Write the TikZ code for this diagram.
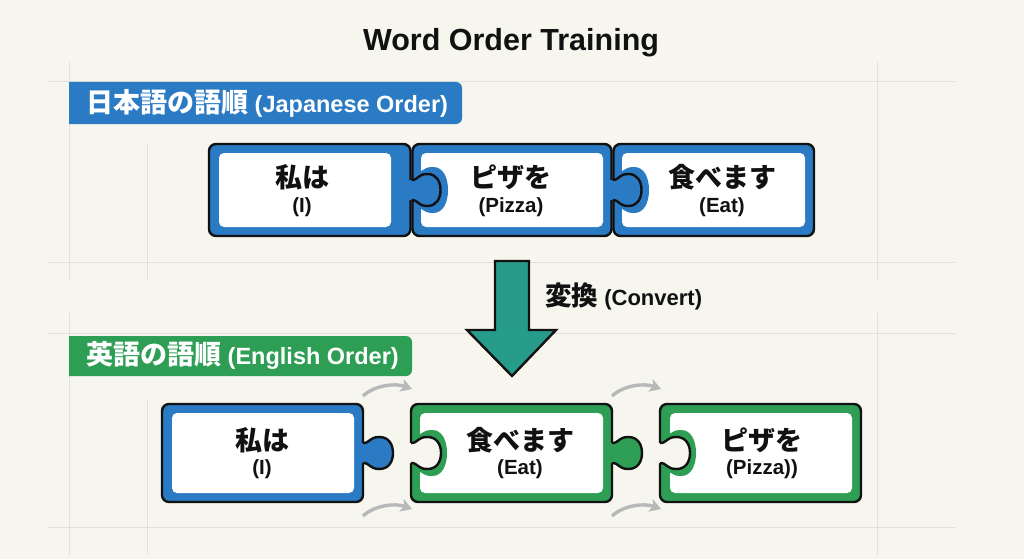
\documentclass[tikz,border=0pt]{standalone}
\usepackage{fontspec}
\setmainfont{Liberation Sans}
\newfontfamily\jp{Noto Sans CJK JP}
\usetikzlibrary{arrows.meta}
\definecolor{bg}{RGB}{246,245,238}
\definecolor{gridc}{RGB}{226,224,216}
\definecolor{pblue}{RGB}{43,122,196}
\definecolor{pgreen}{RGB}{46,158,85}
\definecolor{teal}{RGB}{40,156,138}
\definecolor{garr}{RGB}{184,184,184}
\definecolor{ink}{RGB}{17,17,17}
\newcommand\jpbig{\jp\bfseries\fontsize{27}{27}\selectfont}
\tikzset{
  tabcurve/.style n args={5}{insert path={
    -- ({#1},{#2-#3})
    .. controls ({#1+0.25*#5},{#2-#3}) and ({#1+0.2*#5},{#2-#4}) .. ({#1+0.55*#5},{#2-#4})
    .. controls ({#1+0.85*#5},{#2-#4}) and ({#1+#5},{#2-0.55*#4}) .. ({#1+#5},{#2})
    .. controls ({#1+#5},{#2+0.55*#4}) and ({#1+0.85*#5},{#2+#4}) .. ({#1+0.55*#5},{#2+#4})
    .. controls ({#1+0.2*#5},{#2+#4}) and ({#1+0.25*#5},{#2+#3}) .. ({#1},{#2+#3})
  }},
  outline/.style={draw=ink, line width=2.4pt, line join=round},
  piecebox/.style={outline, rounded corners=7pt},
  innerbox/.style={fill=white, rounded corners=5pt},
  gridline/.style={draw=gridc, line width=0.9pt},
  jword/.style={font=\jp\bfseries\fontsize{27}{27}\selectfont, text=ink, inner sep=0pt},
  eword/.style={font=\bfseries\fontsize{20.5}{20.5}\selectfont, text=ink, inner sep=0pt},
  bannertext/.style={font=\bfseries\fontsize{23.5}{23.5}\selectfont, text=white, inner sep=0pt, anchor=west},
  garrow/.style={draw=garr, line width=3.4pt, -{Stealth[length=11pt,width=13pt,inset=2.5pt]}},
}
\begin{document}
\begin{tikzpicture}[x=1pt,y=-1pt]
\useasboundingbox (0,0) rectangle (1024,559);
\fill[bg] (0,0) rectangle (1024,559);
% faint grid
\foreach \yy in {81,262,333,527} \draw[gridline] (48,\yy) -- (956,\yy);
\draw[gridline] (69,62) -- (69,280);
\draw[gridline] (69,313) -- (69,555);
\draw[gridline] (147,143) -- (147,280);
\draw[gridline] (147,400) -- (147,555);
\draw[gridline] (877,62) -- (877,280);
\draw[gridline] (877,313) -- (877,555);

% title
\node[font=\bfseries\fontsize{30.5}{30.5}\selectfont, text=ink, inner sep=0pt] (title) at (511,43) {Word Order Training};

% banners
\fill[pblue] (69,124) -- (69,82) [rounded corners=6pt] -- (462,82) -- (462,124) [sharp corners] -- cycle;
\node[bannertext] (jpbanner) at (86,103) {{\jpbig 日本語の語順} (Japanese Order)};
\fill[pgreen] (69,376) -- (69,336) [rounded corners=6pt] -- (412,336) -- (412,376) [sharp corners] -- cycle;
\node[bannertext] (enbanner) at (86,355) {{\jpbig 英語の語順} (English Order)};

% ---------- top row (Japanese order) ----------
\draw[piecebox, fill=pblue] (209,144) rectangle (410.5,236);
\fill[innerbox] (219,153) rectangle (391,227);
\draw[piecebox, fill=pblue] (412.5,144) rectangle (611.5,236);
\fill[innerbox] (421,153) rectangle (603,227);
\draw[piecebox, fill=pblue] (613.5,144) rectangle (814,236);
\fill[innerbox] (622,153) rectangle (805,227);
% tab P1 -> P2
\fill[pblue] (415,173) [tabcurve={415}{190}{17}{23}{33}] -- cycle;
\fill[pblue] (407,180) -- (411.5,180) [tabcurve={411.5}{190}{10}{16}{29}] -- (407,200) -- cycle;
\draw[outline] (411.5,180) [tabcurve={411.5}{190}{10}{16}{29}];
% tab P2 -> P3
\fill[pblue] (616,173) [tabcurve={616}{190}{17}{23}{33}] -- cycle;
\fill[pblue] (608,180) -- (612.5,180) [tabcurve={612.5}{190}{10}{16}{29}] -- (608,200) -- cycle;
\draw[outline] (612.5,180) [tabcurve={612.5}{190}{10}{16}{29}];

\node[jword] (j1) at (302,177) {私は};
\node[eword] (e1) at (302,207) {(I)};
\node[jword] (j2) at (511,177) {ピザを};
\node[eword] (e2) at (511,207) {(Pizza)};
\node[jword] (j3) at (722,177) {食べます};
\node[eword] (e3) at (722,207) {(Eat)};

% ---------- convert arrow ----------
\draw[outline, fill=teal, line join=miter] (495,261) -- (529,261) -- (529,330) -- (556,330) -- (512,376) -- (467,330) -- (495,330) -- cycle;
\node[font=\bfseries\fontsize{22}{22}\selectfont, text=ink, inner sep=0pt, anchor=west] (conv) at (545,296) {{\jp\bfseries\fontsize{26.5}{26.5}\selectfont 変換} (Convert)};

% ---------- bottom row (English order) ----------
\draw[piecebox, fill=pblue] (162,404) rectangle (363,502);
\fill[innerbox] (172,413) rectangle (354,493);
\draw[piecebox, fill=pgreen] (411,404) rectangle (612,502);
\fill[innerbox] (420,413) rectangle (603,493);
\draw[piecebox, fill=pgreen] (660,404) rectangle (861,502);
\fill[innerbox] (670,413) rectangle (852,493);
% tab of P1 (blue)
\fill[pblue] (359,443) -- (363,443) [tabcurve={363}{453}{10}{16}{30}] -- (359,463) -- cycle;
\draw[outline] (363,443) [tabcurve={363}{453}{10}{16}{30}];
% notch of P2
\fill[pgreen] (414,436) [tabcurve={414}{453}{17}{23}{33}] -- cycle;
\fill[bg] (407,443) -- (411,443) [tabcurve={411}{453}{10}{16}{30}] -- (407,463) -- cycle;
\draw[outline] (411,443) [tabcurve={411}{453}{10}{16}{30}];
% tab of P2 (green)
\fill[pgreen] (608,443) -- (612,443) [tabcurve={612}{453}{10}{16}{30}] -- (608,463) -- cycle;
\draw[outline] (612,443) [tabcurve={612}{453}{10}{16}{30}];
% notch of P3
\fill[pgreen] (663,436) [tabcurve={663}{453}{17}{23}{33}] -- cycle;
\fill[bg] (656,443) -- (660,443) [tabcurve={660}{453}{10}{16}{30}] -- (656,463) -- cycle;
\draw[outline] (660,443) [tabcurve={660}{453}{10}{16}{30}];

\node[jword] (j4) at (262,440) {私は};
\node[eword] (e4) at (262,469) {(I)};
\node[jword] (j5) at (520,440) {食べます};
\node[eword] (e5) at (520,469) {(Eat)};
\node[jword] (j6) at (762,440) {ピザを};
\node[eword] (e6) at (762,469) {(Pizza))};

% ---------- swap hint arrows ----------
\coordinate (s1a) at (363,396); \coordinate (s1b) at (412,389);
\coordinate (s2a) at (363,516); \coordinate (s2b) at (412,509);
\coordinate (s3a) at (612,396); \coordinate (s3b) at (661,389);
\coordinate (s4a) at (612,516); \coordinate (s4b) at (661,509);
\draw[garrow] (s1a) .. controls (375,385) and (395,383) .. (s1b);
\draw[garrow] (s2a) .. controls (375,505) and (395,503) .. (s2b);
\draw[garrow] (s3a) .. controls (624,385) and (644,383) .. (s3b);
\draw[garrow] (s4a) .. controls (624,505) and (644,503) .. (s4b);
\end{tikzpicture}
\end{document}
